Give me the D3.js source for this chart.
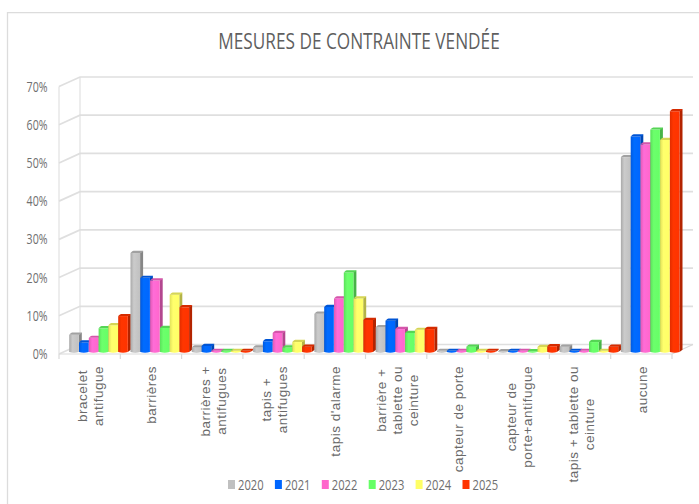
<!DOCTYPE html>
<html><head><meta charset="utf-8">
<script src="https://cdnjs.cloudflare.com/ajax/libs/d3/7.8.5/d3.min.js"></script>
<style>html,body{margin:0;padding:0;background:#fff}svg{display:block}</style></head>
<body><svg id="c" width="699" height="504"></svg>
<script>
const categories=[["bracelet","antifugue"],["barrières"],["barrières +","antifugues"],["tapis +","antifugues"],["tapis d'alarme"],["barrière +","tablette ou","ceinture"],["capteur de porte"],["capteur de","porte+antifugue"],["tapis + tablette ou","ceinture"],["aucune"]];
const years=["2020","2021","2022","2023","2024","2025"];
const colors=["#c0c0c0","#0066ff","#ff66cc","#66ff66","#ffff66","#ff3300"];
const v2020=[4.5,25.9,1.2,1.2,10,6.5,0.3,0.2,1.4,51];
const v2021=[2.5,19.4,1.6,2.8,11.8,8.2,0.3,0.3,0.3,56.4];
const v2022=[3.7,18.7,0.3,5,14,6,0.3,0.3,0.3,54.3];
const v2023=[6.2,6.3,0.3,1.2,20.8,5,1.4,0.2,2.6,58.2];
const v2024=[7,15,0.3,2.6,14,5.8,0.3,1.3,0.3,55.5];
const v2025=[9.4,11.7,0.3,1.4,8.4,6,0.3,1.5,1.4,63];
const series=[v2020,v2021,v2022,v2023,v2024,v2025];
const yTicks=[0,10,20,30,40,50,60,70];
const svg=d3.select("#c");
const F="'Open Sans',sans-serif";
const x=d3.scaleBand().domain(d3.range(categories.length)).range([59,672]);
const y=d3.scaleLinear().domain([0,70]).range([354,86.5]);
const dx=21,dy=-9.5;
const defs=svg.append("defs");
colors.forEach((c,i)=>{
  const g=defs.append("linearGradient").attr("id","g"+i);
  g.append("stop").attr("offset","0").attr("stop-color",d3.color(c).darker(0.35));
  g.append("stop").attr("offset",".35").attr("stop-color",d3.color(c).brighter(0.15));
  g.append("stop").attr("offset","1").attr("stop-color",c);
});
svg.append("path").attr("d","M7.5,504V12.7H699").attr("fill","none").attr("stroke","#dcdcdc").attr("stroke-width",1.3);
const grid=svg.append("g").attr("fill","none").attr("stroke","#dfdfdf").attr("stroke-width",1.7);
yTicks.forEach(t=>{
  grid.append("path").attr("d",d3.line()([[x.range()[0],y(t)],[x.range()[0]+dx,y(t)+dy],[x.range()[1]+dx,y(t)+dy]]));
});
grid.append("line").attr("x1",x.range()[0]+dx).attr("x2",x.range()[0]+dx).attr("y1",y(0)+dy).attr("y2",y(70)+dy).attr("stroke-width",1.1);
grid.append("line").attr("x1",x.range()[0]).attr("x2",x.range()[0]).attr("y1",y(0)).attr("y2",y(70)).attr("stroke-width",1.1);
const fl=svg.append("g").attr("stroke","#d9d9d9").attr("fill","none").attr("stroke-width",1.2);
fl.append("line").attr("x1",x.range()[0]).attr("x2",x.range()[1]).attr("y1",y(0)).attr("y2",y(0));
fl.append("line").attr("x1",x.range()[1]).attr("x2",x.range()[1]+dx).attr("y1",y(0)).attr("y2",y(0)+dy);
d3.range(categories.length+1).forEach(i=>{
  const px=x.range()[0]+i*x.step();
  fl.append("line").attr("x1",px).attr("x2",px).attr("y1",y(0)).attr("y2",y(0)+5);
});
svg.append("g").selectAll("text").data(yTicks).join("text")
 .attr("transform",t=>`translate(47.5,${y(t)+5}) scale(0.76,1)`).attr("text-anchor","end")
 .attr("font-family",F).attr("font-size",14).attr("fill","#6f6f6f").text(t=>t+"%");
const bw=9.8,off=10.2,base=-2,d=3,e=2.2,w=bw-0.2;
const bars=svg.append("g");
categories.forEach((c,ci)=>{
  years.forEach((yr,si)=>{
    const val=series[si][ci];
    const x0=x(ci)+off+si*bw, x1=x0+w;
    const yb=y(0)+base, yt=y(val)+base;
    const g=bars.append("g");
    g.append("path").attr("d",`M${x1},${yb}L${x1+d},${yb-e}V${yt-e}L${x1},${yt}Z`).attr("fill",d3.color(colors[si]).darker(1));
    g.append("rect").attr("x",x0).attr("y",yt).attr("width",w).attr("height",Math.max(0,yb-yt)).attr("fill",`url(#g${si})`);
    g.append("path").attr("d",`M${x0},${yt}Q${x0+2},${yt-e} ${x0+d},${yt-e}L${x1+d},${yt-e}Q${x1+2},${yt+0.2} ${x1},${yt}Z`).attr("fill",d3.color(colors[si]).darker(0.5));
    g.append("path").attr("d",`M${x0},${yb}Q${x0+w/2},${yb+1.6} ${x1},${yb}Z`).attr("fill",colors[si]);
  });
});
categories.forEach((lines,i)=>{
  const cx=x(i)+x.bandwidth()/2+1;
  const t=svg.append("text").attr("text-anchor","middle").attr("font-family","'Liberation Sans',sans-serif")
   .attr("font-size",13.5).attr("letter-spacing",0.5).attr("fill","#6a6a6a");
  const lh=16;
  const tsp=lines.map((l,k)=>t.append("tspan").attr("x",0).attr("y",(k-(lines.length-1)/2)*lh+4.5).text(l));
  const maxLen=d3.max(tsp,s=>s.node().getComputedTextLength());
  t.attr("transform",`translate(${cx},${366+maxLen/2}) rotate(-90)`);
});
svg.append("text").attr("transform","translate(359,49) scale(0.82,1)").attr("text-anchor","middle").attr("font-family",F).attr("font-size",21).attr("fill","#5f5f5f").text("MESURES DE CONTRAINTE VENDÉE");
const lg=svg.append("g");
years.forEach((yr,i)=>{
  const lx=228+i*46.9;
  lg.append("rect").attr("x",lx).attr("y",480).attr("width",7).attr("height",9).attr("fill",colors[i]);
  lg.append("text").attr("transform",`translate(${lx+10},489.5) scale(0.8,1)`).attr("font-family",F).attr("font-size",14).attr("fill","#6f6f6f").text(yr);
});
</script></body></html>
